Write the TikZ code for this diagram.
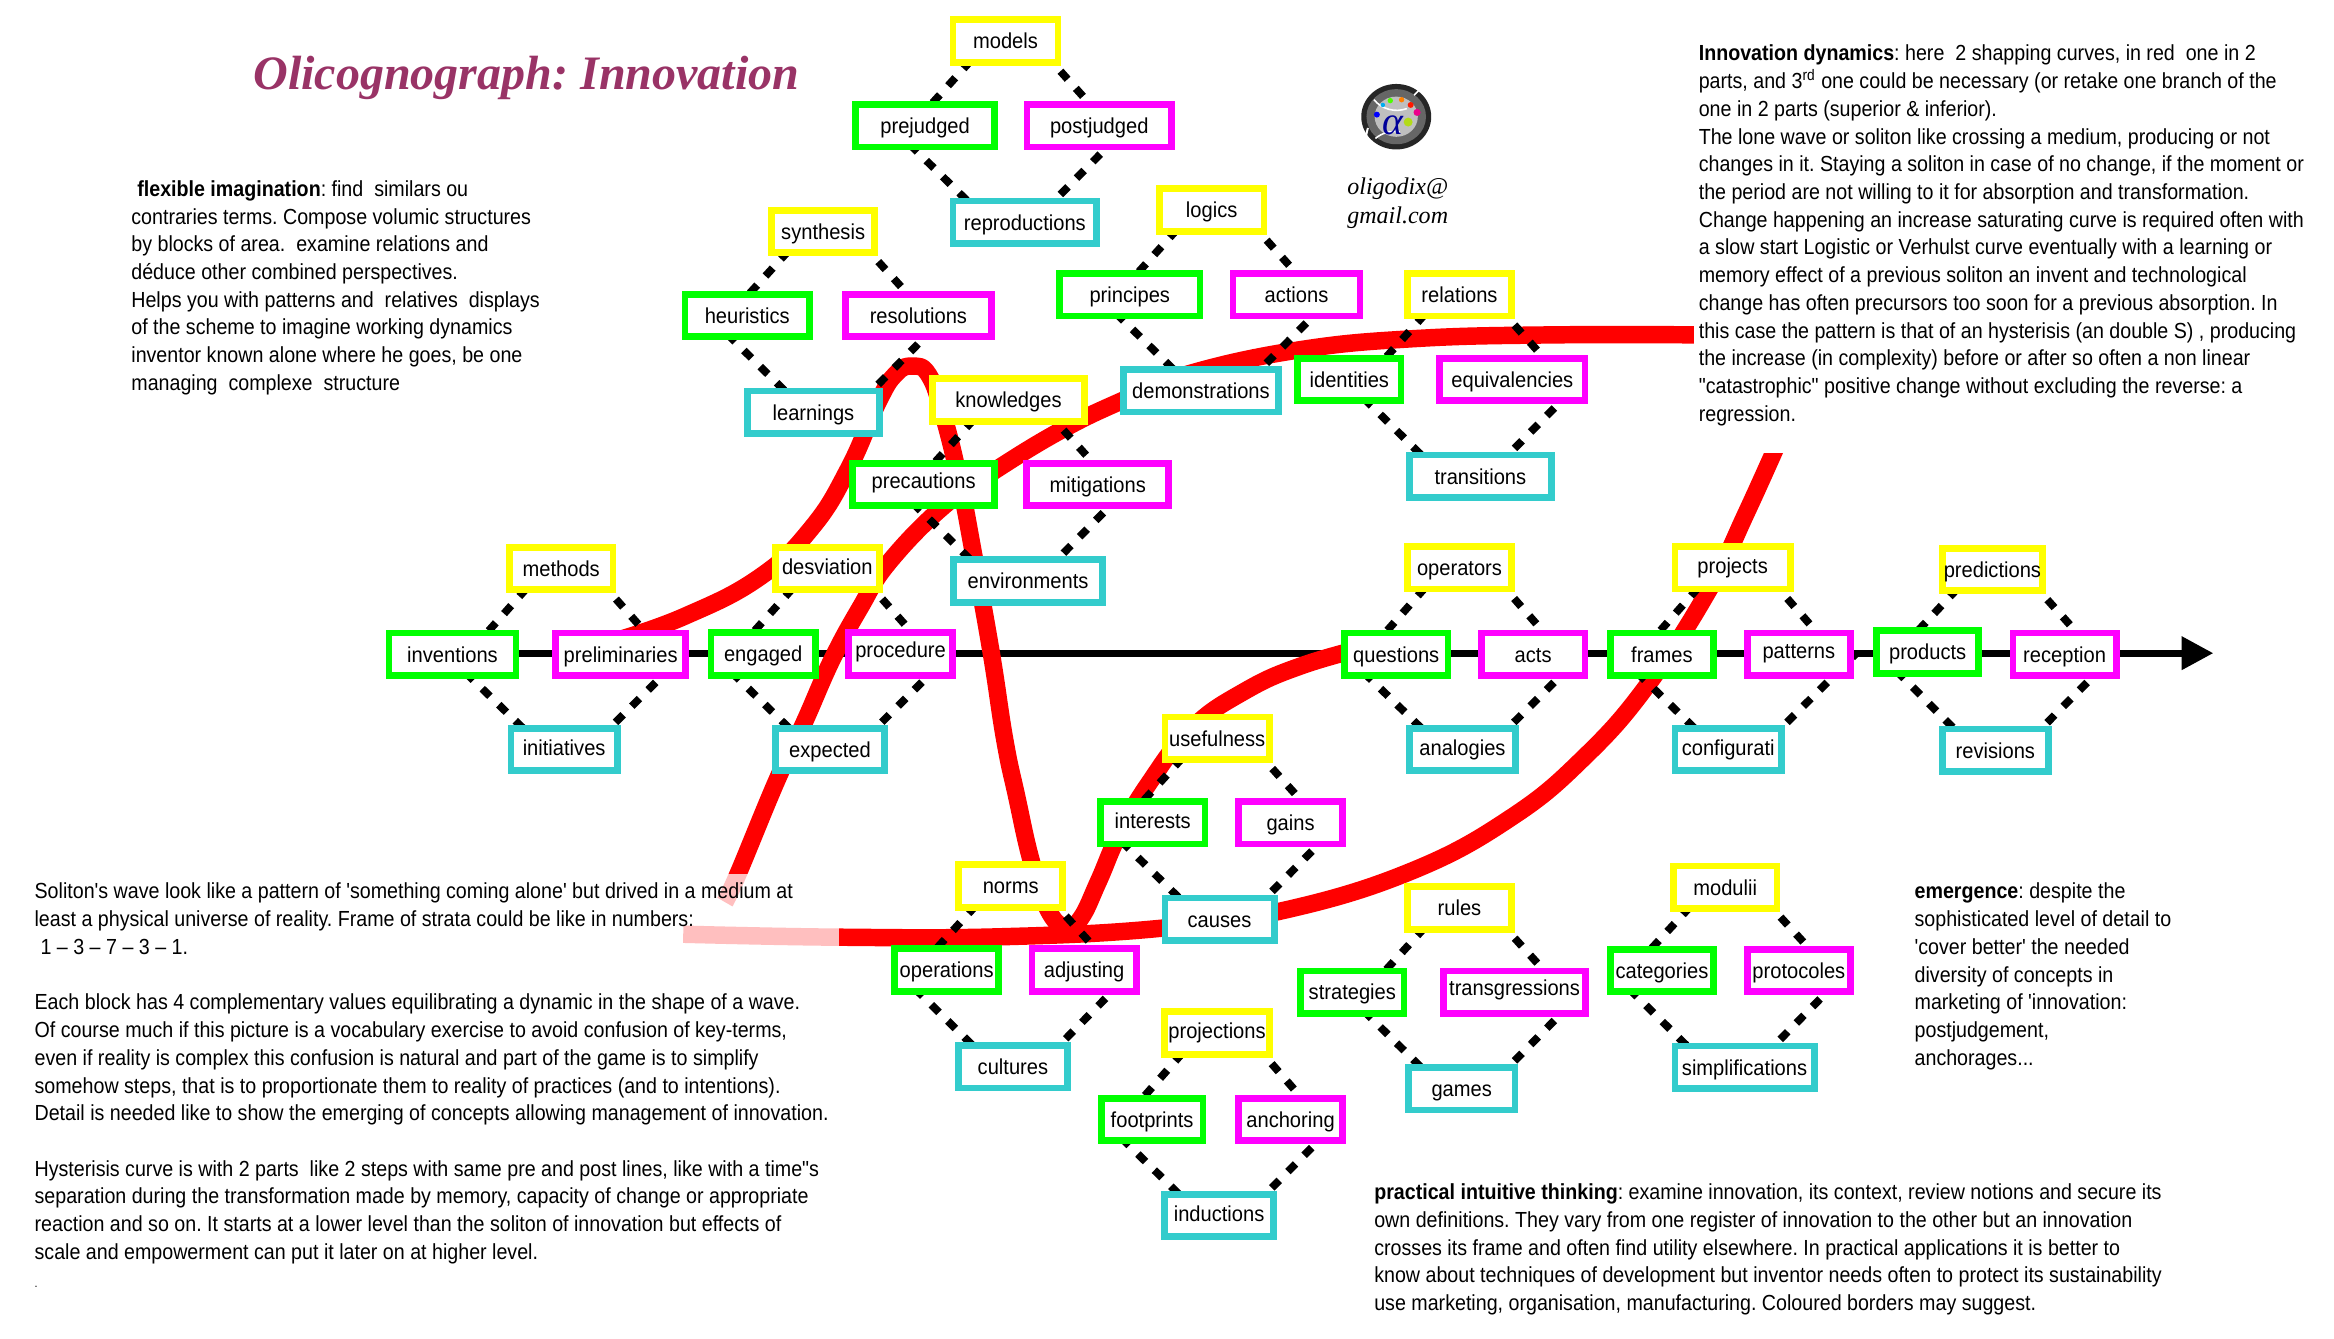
\documentclass[tikz,border=0pt]{standalone}
\usepackage{fontspec}
\usetikzlibrary{calc,arrows.meta}
\setmainfont{Liberation Sans}
\frenchspacing
\newfontfamily\lblfont[FakeStretch=.93]{Liberation Sans}
\newfontfamily\txtA[FakeStretch=.9]{Liberation Sans}
\newfontfamily\serfont{Liberation Serif}
\definecolor{ybox}{HTML}{FFFF00}
\definecolor{gbox}{HTML}{00FF00}
\definecolor{mbox}{HTML}{FF00FF}
\definecolor{cbox}{HTML}{33CCCC}
\definecolor{titlec}{HTML}{993366}
\pgfdeclarelayer{base}
\pgfdeclarelayer{lines}
\pgfsetlayers{base,lines,main}
\tikzset{
  bxs/.style={rectangle,fill=white,line width=3.4pt,inner sep=0pt,outer sep=0pt,
    minimum height=21.4pt,text=black,font=\lblfont\fontsize{10.9}{13}\selectfont,
    text height=.95em,text depth=.16em},
  dl/.style={line width=3.9pt,black,dash pattern=on 5.4pt off 6.2pt},
  redc/.style={line width=8.8pt,red,line join=round},
  bodyA/.style={anchor=north west,inner sep=0pt,align=left,text=black,font=\txtA\fontsize{11}{13.97}\selectfont},
}
\newcommand\bx[6][0pt]{\node[bxs,draw=#5,minimum width={#4*.75pt-3.4pt}] (#6) at (#2,#3) {\raisebox{#1}{#6}};}
\newcommand\dia[4]{%
  \draw[dl,dash phase=9.8pt] ([xshift=-8.55pt]#1.center) -- ([xshift=-37.5pt]#1.center |- #2.north);
  \draw[dl,dash phase=2.7pt] ([xshift=14pt]#1.center) -- ([xshift=42.75pt]#1.center |- #3.north);
  \draw[dl,dash phase=9.8pt] ([xshift=-57.75pt]#1.center |- #2.center) -- ([xshift=-19.2pt]#1.center |- #4.north);
  \draw[dl,dash phase=3.1pt] ([xshift=61.9pt]#1.center |- #3.center) -- ([xshift=24.4pt]#1.center |- #4.north);
}
\begin{document}
\begin{tikzpicture}[x=.75pt,y=-.75pt]
\useasboundingbox (0,0) rectangle (1568,898.9);
% boxes
\bx{675.5}{27.5}{75}{ybox}{models}
\bx{621.5}{84.5}{98}{gbox}{prejudged}
\bx{738.5}{84.5}{101.7}{mbox}{postjudged}
\bx{688.5}{149.3}{101}{cbox}{reproductions}
\bx{553}{155.5}{74}{ybox}{synthesis}
\bx{502}{212}{88}{gbox}{heuristics}
\bx{617}{212}{103}{mbox}{resolutions}
\bx{546.5}{277}{93}{cbox}{learnings}
\bx{814}{141}{75}{ybox}{logics}
\bx{759}{198}{99}{gbox}{principes}
\bx{871}{198}{90}{mbox}{actions}
\bx{806.8}{262.5}{108.5}{cbox}{demonstrations}
\bx{677.5}{268.7}{107}{ybox}{knowledges}
\bx[2pt]{620.5}{325.4}{100}{gbox}{precautions}
\bx{737.5}{325.4}{100}{mbox}{mitigations}
\bx{690.7}{390.3}{104.4}{cbox}{environments}
\bx{980.5}{198}{74}{ybox}{relations}
\bx{906.5}{255}{74}{gbox}{identities}
\bx{1016}{255}{102}{mbox}{equivalencies}
\bx{994.5}{320}{100}{cbox}{transitions}
\bx{377}{382}{74}{ybox}{methods}
\bx{304}{439.5}{90}{gbox}{inventions}
\bx{417}{439.5}{92}{mbox}{preliminaries}
\bx[1pt]{379}{503.5}{76}{cbox}{initiatives}
\bx[1pt]{555.8}{382}{74.4}{ybox}{desviation}
\bx{512.7}{439.3}{74.6}{gbox}{engaged}
\bx[2pt]{605}{439.3}{74.8}{mbox}{procedure}
\bx{557.6}{503.5}{78}{cbox}{expected}
\bx{980.5}{381.5}{74}{ybox}{operators}
\bx{938}{439.5}{74}{gbox}{questions}
\bx{1030}{439.5}{74}{mbox}{acts}
\bx[1pt]{982.5}{503.5}{76}{cbox}{analogies}
\bx[1pt]{1164}{381.5}{82}{ybox}{projects}
\bx{1116.5}{439.5}{74}{gbox}{frames}
\bx[2pt]{1208.5}{439.5}{74}{mbox}{patterns}
\bx[1pt]{1161}{503.5}{76}{cbox}{configurati}
\bx{1338.5}{382.5}{72}{ybox}{predictions}
\bx{1295}{438}{73}{gbox}{products}
\bx{1387}{439.5}{74}{mbox}{reception}
\bx{1340.5}{504}{76}{cbox}{revisions}
\bx{817.7}{496}{74.6}{ybox}{usefulness}
\bx[1pt]{774.4}{552.7}{74.7}{gbox}{interests}
\bx{867}{552.7}{74}{mbox}{gains}
\bx{819.3}{617.5}{78}{cbox}{causes}
\bx{679}{595.2}{74.6}{ybox}{norms}
\bx{636}{651.6}{74.5}{gbox}{operations}
\bx{728.3}{651.6}{74.6}{mbox}{adjusting}
\bx{680.5}{716.6}{77.6}{cbox}{cultures}
\bx[1pt]{817.6}{694}{74.8}{ybox}{projections}
\bx{774}{752}{73}{gbox}{footprints}
\bx{867}{752}{74}{mbox}{anchoring}
\bx[1pt]{819}{816.5}{78}{cbox}{inductions}
\bx{980.5}{610}{74}{ybox}{rules}
\bx{908.5}{666.5}{74}{gbox}{strategies}
\bx[2pt]{1017.5}{666.5}{100}{mbox}{transgressions}
\bx{982}{731.5}{76}{cbox}{games}
\bx{1159}{596}{74}{ybox}{modulii}
\bx{1116.5}{652}{74}{gbox}{categories}
\bx{1208.5}{652}{74}{mbox}{protocoles}
\bx{1172}{717}{98}{cbox}{simplifications}
% arrow end
\coordinate (axisend) at (1487,438.8);
\begin{pgfonlayer}{lines}
\dia{models}{prejudged}{postjudged}{reproductions}
\dia{synthesis}{heuristics}{resolutions}{learnings}
\dia{logics}{principes}{actions}{demonstrations}
\dia{knowledges}{precautions}{mitigations}{environments}
\dia{relations}{identities}{equivalencies}{transitions}
\dia{methods}{inventions}{preliminaries}{initiatives}
\dia{desviation}{engaged}{procedure}{expected}
\dia{operators}{questions}{acts}{analogies}
\dia{projects}{frames}{patterns}{configurati}
\dia{predictions}{products}{reception}{revisions}
\dia{usefulness}{interests}{gains}{causes}
\dia{norms}{operations}{adjusting}{cultures}
\dia{projections}{footprints}{anchoring}{inductions}
\dia{rules}{strategies}{transgressions}{games}
\dia{modulii}{categories}{protocoles}{simplifications}
\end{pgfonlayer}
\begin{pgfonlayer}{base}
\draw[line width=3.7pt,-{Triangle[length=16pt,width=16pt]}] (inventions.center |- axisend) -- (axisend);
% soliton curves
\draw[redc] plot[smooth,tension=.7] coordinates {(459,627.6) (563,629.6) (673,629.3) (780,623.6) (865,611) (950,584.5) (1016,548.7) (1064,509) (1106,461.3) (1148,396.4) (1173,345) (1200,285)};
\draw[redc] plot[smooth,tension=.7] coordinates {(487,606) (496,586.7) (522,524) (540,486) (559,443) (578,408) (597,378) (634,340) (670,315) (713,289) (752,270) (799,251) (873,235) (950,227.5) (1040,225) (1150,225)};
\draw[redc] plot[smooth,tension=.75] coordinates {(415,430) (460,414) (510,388) (545,355) (570,315) (590,270) (602,251) (613,246) (624,252) (634,280) (645,325) (654,372) (666,439) (675,497) (683,535) (693,579) (704,611) (716,623) (726,617) (738,592) (752,560) (772,526) (800,490) (835,465) (875,447) (925,433)};
% text-block backgrounds covering the curve ends
\fill[white] (1138,0) rectangle (1568,304.5);
\fill[white,opacity=.75] (440,587) rectangle (563.6,650);
\end{pgfonlayer}
% title
\node[anchor=base west,inner sep=0pt,text=titlec,font=\serfont\bfseries\itshape\fontsize{24.2}{28}\selectfont] (title) at (170,60) {Olicognograph: Innovation};
% logo
\fill[black!85] (938,78.4) ellipse [x radius=23.5,y radius=22];
\fill[black!60] (938,78.4) ellipse [x radius=20,y radius=18.5];
\fill[black!25] (938,78.4) ellipse [x radius=14.5,y radius=13.5];
\draw[white,line width=1pt] (919,86) arc[start angle=200,end angle=150,radius=20];
\draw[white,line width=.8pt] (924,93) arc[start angle=230,end angle=280,radius=20];
\draw[white,line width=.8pt] (923,67) arc[start angle=140,end angle=70,radius=20];
\draw[white,line width=.8pt] (950,64) arc[start angle=50,end angle=-40,radius=18];
\fill[green!70!yellow] (934,67.6) circle (1.8);
\fill[orange] (941.6,67) circle (1.8);
\fill[red!80!orange] (947.7,70.5) circle (2);
\fill[magenta] (952,75.5) circle (2.4);
\fill[cyan] (929,70.5) circle (1.5);
\fill[blue] (925,77) circle (2);
\fill[yellow!70!green] (946,82) circle (3);
\node[inner sep=0pt,text=blue!60!black,font=\serfont\itshape\fontsize{20}{20}\selectfont] (alpha) at (936,84) {α};
\node[inner sep=0pt,align=center,font=\serfont\itshape\fontsize{12.1}{14.3}\selectfont] (email) at (939,136.5) {oligodix@\\gmail.com};
% text blocks
\node[bodyA] (flex) at (88,121) {\hspace*{3pt}\textbf{flexible imagination}: find~ similars ou\\contraries terms. Compose volumic structures\\by blocks of area.~ examine relations and\\déduce other combined perspectives.\\Helps you with patterns and~ relatives~ displays\\of the scheme to imagine working dynamics\\inventor known alone where he goes, be one\\managing~ complexe~ structure};
\node[bodyA] (dyn) at (1141,30) {\textbf{Innovation dynamics}: here~ 2 shapping curves, in red~ one in 2\\parts, and 3\textsuperscript{rd} one could be necessary (or retake one branch of the\\one in 2 parts (superior \& inferior).\\The lone wave or soliton like crossing a medium, producing or not\\changes in it. Staying a soliton in case of no change, if the moment or\\the period are not willing to it for absorption and transformation.\\Change happening an increase saturating curve is required often with\\a slow start Logistic or Verhulst curve eventually with a learning or\\memory effect of a previous soliton an invent and technological\\change has often precursors too soon for a previous absorption. In\\this case the pattern is that of an hysterisis (an double S) , producing\\the increase (in complexity) before or after so often a non linear\\"catastrophic" positive change without excluding the reverse: a\\regression.};
\node[bodyA] (sol) at (23,593) {Soliton's wave look like a pattern of 'something coming alone' but drived in a medium at\\least a physical universe of reality. Frame of strata could be like in numbers:\\\hspace*{3pt}1 – 3 – 7 – 3 – 1.\\\mbox{}\\Each block has 4 complementary values equilibrating a dynamic in the shape of a wave.\\Of course much if this picture is a vocabulary exercise to avoid confusion of key-terms,\\even if reality is complex this confusion is natural and part of the game is to simplify\\somehow steps, that is to proportionate them to reality of practices (and to intentions).\\Detail is needed like to show the emerging of concepts allowing management of innovation.\\\mbox{}\\Hysterisis curve is with 2 parts~ like 2 steps with same pre and post lines, like with a time"s\\separation during the transformation made by memory, capacity of change or appropriate\\reaction and so on. It starts at a lower level than the soliton of innovation but effects of\\scale and empowerment can put it later on at higher level.\\{\fontsize{6}{13.97}\selectfont .}};
\node[bodyA] (prac) at (923,795) {\textbf{practical intuitive thinking}: examine innovation, its context, review notions and secure its\\own definitions. They vary from one register of innovation to the other but an innovation\\crosses its frame and often find utility elsewhere. In practical applications it is better to\\know about techniques of development but inventor needs often to protect its sustainability\\use marketing, organisation, manufacturing. Coloured borders may suggest.};
\node[bodyA] (emer) at (1286,593) {\textbf{emergence}: despite the\\sophisticated level of detail to\\'cover better' the needed\\diversity of concepts in\\marketing of 'innovation:\\postjudgement,\\anchorages...};
\end{tikzpicture}
\end{document}
